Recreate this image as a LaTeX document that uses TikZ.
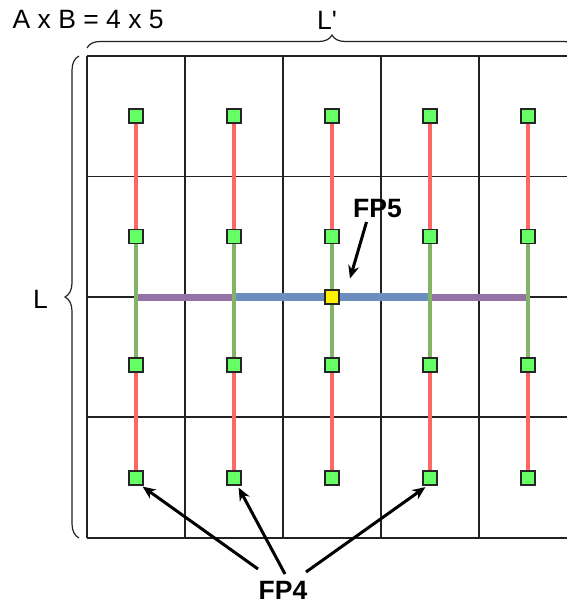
\documentclass[tikz,border=0pt]{standalone}
\usepackage{fontspec}
\setmainfont{Liberation Sans}
\usetikzlibrary{arrows.meta,decorations.pathreplacing,calc}
\definecolor{redl}{HTML}{FF6666}
\definecolor{greenl}{HTML}{82B366}
\definecolor{purplel}{HTML}{9673A6}
\definecolor{bluel}{HTML}{6C8EBF}
\definecolor{sqgreen}{HTML}{66FF66}
\definecolor{gridc}{HTML}{222222}
\begin{document}
\begin{tikzpicture}[x=1pt,y=-1pt,
  gridline/.style={draw=gridc,line width=1.5pt},
  sq/.style={draw=black!85,fill=sqgreen,minimum size=14pt,inner sep=0pt,line width=1.2pt},
  ysq/.style={sq,fill=yellow},
  redseg/.style={draw=redl,line width=3.5pt},
  greenseg/.style={draw=greenl,line width=4pt},
  purpseg/.style={draw=purplel,line width=7pt},
  blueseg/.style={draw=bluel,line width=8pt},
  lbl/.style={inner sep=0pt,font=\fontsize{26.5}{30}\selectfont},
  blbl/.style={inner sep=0pt,font=\fontsize{26.5}{30}\selectfont\bfseries},
  arr/.style={draw=black,line width=3pt,-{Stealth[length=13pt,width=11pt]}},
  bracel/.style={draw=gridc,line width=1.2pt,decorate}
]
\useasboundingbox (0,0) rectangle (567,600);
\clip (0,0) rectangle (567,600);
% grid
\foreach \x in {87,185,283,381,479,577}
  \draw[gridline] (\x,56) -- (\x,538);
\foreach \y in {56,176.5,297,417,538}
  \draw[gridline] (87,\y) -- (577,\y);
% texts
\node[lbl,anchor=base west] (axb) at (12.5,28.5) {A x B = 4 x 5};
\node[lbl,anchor=base] (lp) at (327,29) {L\textquotesingle};
\node[lbl] (ll) at (40.5,299) {L};
\node[blbl] (fp5) at (377.5,209) {FP5};
\node[blbl] (fp4) at (283,590) {FP4};
% braces
\draw[bracel,decoration={brace,amplitude=13pt}] (87,48) -- (577,48);
\draw[bracel,decoration={brace,amplitude=14pt}] (79,538) -- (79,56);
% junction coordinates
\foreach \c/\x in {1/136,2/234,3/332,4/430,5/528}
  \coordinate (j\c) at (\x,297);
% horizontal bars
\draw[purpseg] (j1) -- (j2);
\draw[blueseg] (j2) -- (j4);
\draw[purpseg] (j4) -- (j5);
% squares
\foreach \c/\x in {1/136,2/234,3/332,4/430,5/528}{
  \node[sq] (s1\c) at (\x,116) {};
  \node[sq] (s2\c) at (\x,236.7) {};
  \node[sq] (s3\c) at (\x,365) {};
  \node[sq] (s4\c) at (\x,478) {};
}
% vertical segments
\foreach \c in {1,...,5}{
  \draw[redseg] (s1\c) -- (s2\c);
  \draw[greenseg] (s2\c) -- (s3\c);
  \draw[redseg] (s3\c) -- (s4\c);
}
% yellow square
\node[ysq] (fp5sq) at (j3) {};
% arrows
\coordinate (fp5tip) at (350,278.5);
\draw[arr] ($(fp5)+(-11,13)$) -- (fp5tip);
\draw[arr] ($(fp4)+(-25,-21)$) -- ($(s41.south east)+(-1,1)$);
\draw[arr] ($(fp4)+(2,-16)$) -- ($(s42.south east)+(-3,2)$);
\draw[arr] ($(fp4)+(23,-18)$) -- ($(s44.south west)+(3,1.5)$);
\end{tikzpicture}
\end{document}
